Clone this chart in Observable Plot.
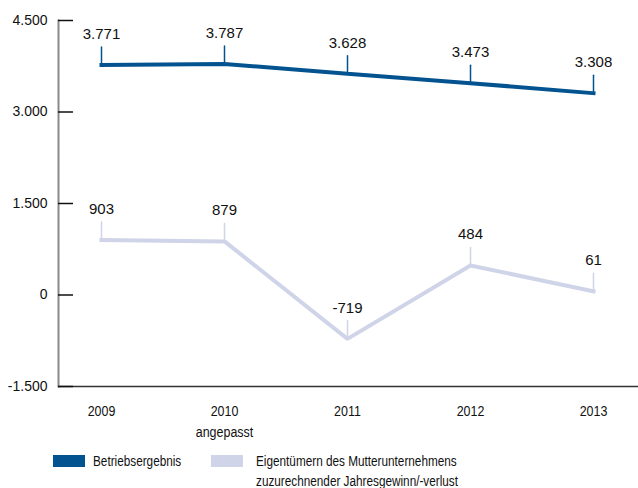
<!DOCTYPE html>
<html>
<head>
<meta charset="utf-8">
<script src="https://cdn.jsdelivr.net/npm/d3@7"></script>
<script src="https://cdn.jsdelivr.net/npm/@observablehq/plot@0.6"></script>
<style>
  body { margin: 0; background: #fff; }
  #wrap { position: relative; width: 638px; height: 488px; overflow: hidden; }
  .leg { position: absolute; font-family: "Liberation Sans", Arial, sans-serif; font-size: 14px; color: #111; line-height: 20px; white-space: nowrap; transform: scaleX(0.84); transform-origin: 0 0; }
  .sw { position: absolute; width: 32px; height: 12px; }
</style>
</head>
<body>
<div id="wrap"></div>
<script>
const years = ["2009", "2010", "2011", "2012", "2013"];
const yearLabels = ["2009", "2010\nangepasst", "2011", "2012", "2013"];
const betriebsergebnis = [3771, 3787, 3628, 3473, 3308];
const jahresergebnis = [903, 879, -719, 484, 61];
const yTicks = [-1500, 0, 1500, 3000, 4500];
const seriesNames = ["Betriebsergebnis", "Eigentümern des Mutterunternehmens\nzuzurechnender Jahresgewinn/-verlust"];
const seriesColors = ["#02538f", "#cfd4e8"];

const de = d3.formatLocale({decimal: ",", thousands: ".", grouping: [3], currency: ["", " €"], minus: "-"});
const fmt = de.format(",");

const rows = [];
years.forEach((y, i) => {
  rows.push({year: y, value: betriebsergebnis[i], s: 0});
  rows.push({year: y, value: jahresergebnis[i], s: 1});
});

const W = 638, H = 445, ML = 58, MT = 20, BOTTOM = 386;
const leader = {draw(ctx, l) { ctx.moveTo(0, 0); ctx.lineTo(0, -l); }};

const chart = Plot.plot({
  width: W, height: H,
  marginLeft: ML, marginRight: 0, marginTop: MT, marginBottom: H - BOTTOM,
  style: {fontFamily: "'Liberation Sans', Arial, sans-serif", fontSize: "14px", color: "#111", background: "white", overflow: "visible"},
  x: {type: "point", domain: years, range: [100, 593], padding: 0, label: null},
  y: {domain: [-1500, 4500], label: null},
  marks: [
    Plot.frame({anchor: "left", stroke: "#8a8a8a", strokeWidth: 2}),
    Plot.ruleY([-1500], {stroke: "#333", strokeWidth: 1.5}),
    Plot.tickY(yTicks, {y: d => d, stroke: "#111", strokeWidth: 1.5, insetRight: (W - ML) - 15}),
    Plot.axisY({ticks: yTicks, tickSize: 0, tickPadding: 11, tickFormat: fmt, fontSize: 14, label: null}),
    Plot.axisX({tickSize: 0, tickPadding: 15, tickFormat: (d, i) => yearLabels[years.indexOf(d)], fontSize: 14.5, lineHeight: 1.45, label: null}),
    ...[1, 0].map(s => Plot.vector(rows.filter(r => r.s === s), {x: "year", y: "value", length: 18, anchor: "start", rotate: 0, shape: leader, stroke: seriesColors[s], strokeWidth: 1.5})),
    ...[1, 0].map(s => Plot.line(rows.filter(r => r.s === s), {x: "year", y: "value", stroke: seriesColors[s], strokeWidth: 4, strokeLinejoin: "miter", strokeLinecap: "square"})),
    Plot.text(rows, {x: "year", y: "value", text: d => fmt(d.value), dy: -31, fontSize: 15, fill: "#111"})
  ]
});

// condense the year labels horizontally, as in the reference typeface
chart.querySelectorAll('g[aria-label="x-axis tick label"] text').forEach(t => {
  const tr = t.getAttribute("transform") || "";
  t.setAttribute("transform", tr + " scale(0.86,1)");
});

const wrap = document.getElementById("wrap");
wrap.appendChild(chart);

const legendItems = [
  {sx: 53, tx: 93},
  {sx: 211, tx: 256}
];
legendItems.forEach((it, i) => {
  const sw = document.createElement("div");
  sw.className = "sw";
  sw.style.left = it.sx + "px";
  sw.style.top = "455px";
  sw.style.background = seriesColors[i];
  wrap.appendChild(sw);
  const t = document.createElement("div");
  t.className = "leg";
  t.style.left = it.tx + "px";
  t.style.top = "451px";
  t.innerHTML = seriesNames[i].split("\n").join("<br>");
  wrap.appendChild(t);
});
</script>
</body>
</html>
